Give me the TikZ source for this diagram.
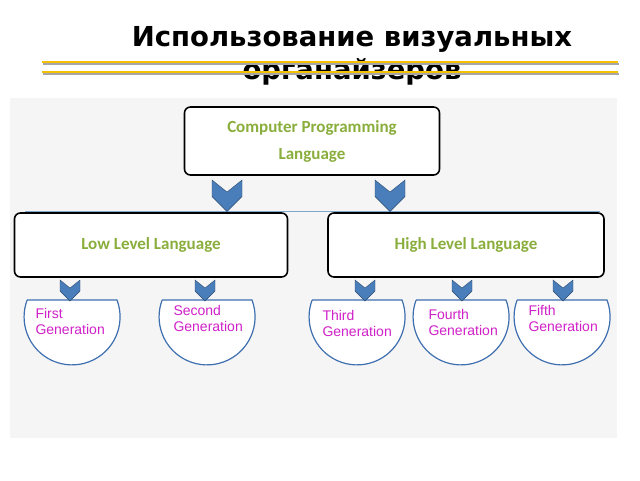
\documentclass[tikz,border=0pt]{standalone}
\usepackage{fontspec}
\setmainfont{Carlito}
\newfontfamily\titlefont{DejaVu Sans}
\newfontfamily\genfont{Liberation Sans}
\usetikzlibrary{positioning}
\definecolor{cplgreen}{HTML}{8AAE3C}
\definecolor{genpink}{HTML}{D020C8}
\definecolor{chevblue}{HTML}{4A7EBB}
\definecolor{bowlblue}{HTML}{3E6FB0}
\definecolor{gold}{HTML}{F5C000}
\tikzset{
	levelbox/.style={draw=black,line width=1.6pt,rounded corners=6pt,fill=white,font=\bfseries\fontsize{17}{27}\selectfont,text=cplgreen,align=center},
	gentext/.style={font=\genfont\fontsize{14}{16}\selectfont,text=genpink,align=left}
}
% chevron connector below a point
\newcommand{\chevron}[2]{\draw[fill=chevblue,draw=chevblue!60!black,line width=0.4pt] (#1) ++(-#2,0) -- ++(#2,0.8*#2) -- ++(#2,-0.8*#2) -- ++(0,1.1*#2) -- ++(-#2,#2) -- ++(-#2,-#2) -- cycle;}
% bowl shaped generation node outline
\newcommand{\bowl}[1]{\draw[bowlblue,line width=1.2pt,fill=white] (#1) ++(-45,0) -- ++(90,0) arc[start angle=-20.6,end angle=200.6,radius=48] ;}
\begin{document}
\begin{tikzpicture}[x=1pt,y=-1pt]
	\useasboundingbox (0,0) rectangle (640,480);
	\fill[white] (0,0) rectangle (640,480);
	% picture panel
	\fill[black!4] (10,98) rectangle (617,438);

	% title
	\node[font=\titlefont\bfseries\fontsize{27.5}{33}\selectfont,align=center] (title) at (352,56) {Использование визуальных\\органайзеров};
	\foreach \y in {62,72} {
		\draw[black!35,line width=2pt] (43,\y+1.5) -- (619,\y+1.5);
		\draw[gold,line width=2.6pt] (42,\y) -- (618,\y);
	}

	% thin line behind level boxes
	\draw[chevblue!70,line width=0.8pt] (25,211) -- (600,211);

	% boxes
	\node[levelbox,minimum width=255pt,minimum height=68pt] (cpl) at (312,141) {Computer Programming\\Language};
	\node[levelbox,minimum width=273pt,minimum height=64pt] (low) at (151,245) {Low Level Language};
	\node[levelbox,minimum width=276pt,minimum height=64pt] (high) at (466,245) {High Level Language};

	% generation bowls
	\foreach \x [count=\i] in {72,207,357,461,562} {
		\coordinate (b\i) at (\x,300);
		\bowl{b\i}
	}

	% chevrons
	\coordinate (c1) at (227,180);
	\coordinate (c2) at (390,180);
	\chevron{c1}{15}
	\chevron{c2}{15}
	\foreach \x [count=\i] in {70,205,365,462,563} {
		\coordinate (s\i) at (\x,280);
		\chevron{s\i}{10}
	}

	\node[gentext,anchor=north west] (g1) at (32,305) {First\\Generation};
	\node[gentext,anchor=north west] (g2) at (170,302) {Second\\Generation};
	\node[gentext,anchor=north west] (g3) at (319,307) {Third\\Generation};
	\node[gentext,anchor=north west] (g4) at (425,306) {Fourth\\Generation};
	\node[gentext,anchor=north west] (g5) at (525,302) {Fifth\\Generation};
\end{tikzpicture}
\end{document}
